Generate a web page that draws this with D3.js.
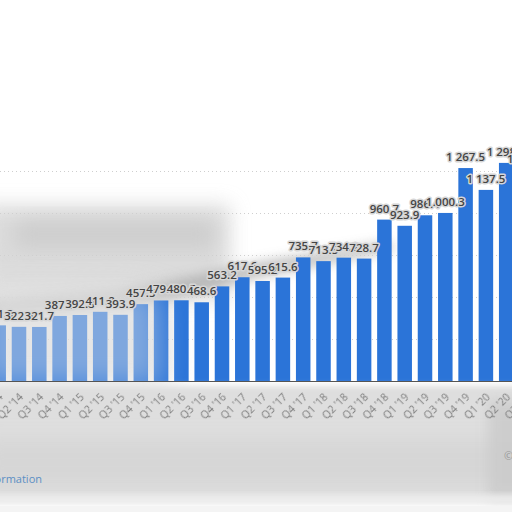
<!DOCTYPE html>
<html>
<head>
<meta charset="utf-8">
<script src="https://cdn.jsdelivr.net/npm/d3@7"></script>
<style>
  body { margin: 0; background: #fff; }
  svg { display: block; }
</style>
</head>
<body>
<script>
// quarterly values, Q1 '14 .. Q3 '20 (first and last fall outside the crop)
var quarters = ["Q1 '14", "Q2 '14", "Q3 '14", "Q4 '14",
                "Q1 '15", "Q2 '15", "Q3 '15", "Q4 '15",
                "Q1 '16", "Q2 '16", "Q3 '16", "Q4 '16",
                "Q1 '17", "Q2 '17", "Q3 '17", "Q4 '17",
                "Q1 '18", "Q2 '18", "Q3 '18", "Q4 '18",
                "Q1 '19", "Q2 '19", "Q3 '19", "Q4 '19",
                "Q1 '20", "Q2 '20", "Q3 '20"];
var values = [331.3, 322.4, 321.7, 387.2,
              392.8, 411.8, 393.9, 457.5,
              479.4, 480.5, 468.6, 563.2,
              617.6, 595.2, 615.6, 735.7,
              713.5, 734.2, 728.7, 960.7,
              923.9, 986.4, 1000.3, 1267.5,
              1137.5, 1298.2, 1256.4];
var yTicks = [0, 250, 500, 750, 1000, 1250];

var w = 512,
    h = 512,
    base = 381,
    step = 20.3;

var data = quarters.map(function(q, i) {
    return { q: q, v: values[i] };
});

var svg = d3.select("body")
    .append("svg")
    .attr("width", w)
    .attr("height", h);

var defs = svg.append("defs");
[["b3", 3], ["b6", 6], ["b10", 10], ["b14", 14], ["b1", 0.6]].forEach(function(f) {
    defs.append("filter")
        .attr("id", f[0])
        .attr("x", "-50%").attr("y", "-50%")
        .attr("width", "200%").attr("height", "200%")
        .append("feGaussianBlur")
        .attr("stdDeviation", f[1]);
});

var x = d3.scaleBand()
    .domain(quarters)
    .range([-11.45, -11.45 + step * quarters.length])
    .paddingInner(0.285)
    .paddingOuter(0.1425);

var y = d3.scaleLinear()
    .domain([0, 1250])
    .range([base, 171]);

var fmt = d3.formatLocale({ decimal: ".", thousands: " ", grouping: [3], currency: ["", ""] })
    .format(",.1f");

// blurred backdrop on the left
var bg = svg.append("g");
bg.append("rect")
    .attr("x", -20).attr("y", 205).attr("width", 250).attr("height", 95)
    .style("fill", "#d3d3d3").attr("filter", "url(#b10)").style("opacity", 0.8);
bg.append("rect")
    .attr("x", 15).attr("y", 220).attr("width", 200).attr("height", 28)
    .style("fill", "#c4c4c4").attr("filter", "url(#b10)").style("opacity", 0.6);
bg.append("path")
    .attr("d", "M-20,300 L120,292 L260,262 L390,242 L395,250 L265,276 L130,308 L-20,320 Z")
    .style("fill", "#aaaaaa").attr("filter", "url(#b6)").style("opacity", 0.75);
bg.append("path")
    .attr("d", "M-20,290 L150,290 L175,300 L175,384 L-20,384 Z")
    .style("fill", "#d6d6d6").attr("filter", "url(#b14)").style("opacity", 0.6);

// grid
svg.append("g")
    .selectAll("line")
    .data(yTicks.slice(1))
    .enter()
    .append("line")
    .attr("x1", 0).attr("x2", w)
    .attr("y1", function(d) { return y(d) + 0.5; })
    .attr("y2", function(d) { return y(d) + 0.5; })
    .style("stroke", "#cfcfcf")
    .style("stroke-dasharray", "1,3");

// bars
svg.append("g")
    .selectAll("rect")
    .data(data)
    .enter()
    .append("rect")
    .attr("x", function(d) { return x(d.q); })
    .attr("y", function(d) { return y(d.v); })
    .attr("width", x.bandwidth())
    .attr("height", function(d) { return base - y(d.v); })
    .style("fill", "#2b74d8");

// wash over the left bars
svg.append("path")
    .attr("d", "M-20,280 L140,286 L160,300 L162,386 L-20,386 Z")
    .style("fill", "#e6e6e6").attr("filter", "url(#b14)").style("opacity", 0.45);

// lower blurred panel
svg.append("rect")
    .attr("x", -20).attr("y", 386).attr("width", 560).attr("height", 116)
    .style("fill", "#dedede").attr("filter", "url(#b3)");
svg.append("rect")
    .attr("x", -20).attr("y", 440).attr("width", 560).attr("height", 45)
    .style("fill", "#d3d3d3").attr("filter", "url(#b10)").style("opacity", 0.7);
svg.append("rect")
    .attr("x", 488).attr("y", 400).attr("width", 40).attr("height", 100)
    .style("fill", "#cacaca").attr("filter", "url(#b6)").style("opacity", 0.8);
svg.append("rect")
    .attr("x", -20).attr("y", 495).attr("width", 560).attr("height", 8)
    .style("fill", "#eeeeee").attr("filter", "url(#b3)");
svg.append("line")
    .attr("x1", 0).attr("x2", w).attr("y1", 505).attr("y2", 505)
    .style("stroke", "#bdbdbd").style("stroke-width", 1.5).attr("filter", "url(#b1)");
svg.append("rect")
    .attr("x", 0).attr("y", 506).attr("width", w).attr("height", 6)
    .style("fill", "#f4f4f4");

// axis line
svg.append("line")
    .attr("x1", 0).attr("x2", w)
    .attr("y1", base + 0.5).attr("y2", base + 0.5)
    .style("stroke", "#555")
    .style("stroke-width", 1);

// x tick labels
var xAxis = d3.axisBottom(x).tickSize(0).tickPadding(0);
var gx = svg.append("g")
    .attr("transform", "translate(0," + (base + 14) + ")")
    .call(xAxis);
gx.select(".domain").remove();
gx.selectAll("text")
    .attr("dy", "0.35em")
    .attr("transform", "translate(2,0) rotate(-45)")
    .style("text-anchor", "end")
    .style("font-family", "'Open Sans', sans-serif")
    .style("font-size", "10.5px")
    .style("fill", "#7d7d7d")
    .attr("filter", "url(#b1)");

// value labels, drawn in order so later ones cover earlier ones
svg.append("g")
    .selectAll("text")
    .data(data)
    .enter()
    .append("text")
    .attr("x", function(d) { return x(d.q) + x.bandwidth() / 2; })
    .attr("y", function(d) { return y(d.v) - 7; })
    .attr("text-anchor", "middle")
    .style("font-family", "'Open Sans', sans-serif")
    .style("font-size", "11.5px")
    .style("font-weight", 600)
    .style("fill", "#444")
    .style("stroke", "#d6d6d6")
    .style("stroke-width", 3)
    .style("stroke-linejoin", "round")
    .style("paint-order", "stroke")
    .text(function(d) { return fmt(d.v); });

// clipped footer texts
svg.append("text")
    .attr("x", 42).attr("y", 483)
    .attr("text-anchor", "end")
    .style("font-family", "'Open Sans', sans-serif")
    .style("font-size", "11px")
    .style("fill", "#5b8fc4")
    .text("Additional Information");
svg.append("text")
    .attr("x", 504).attr("y", 460)
    .style("font-family", "'Open Sans', sans-serif")
    .style("font-size", "11px")
    .style("fill", "#999")
    .text("© Statista 2020");
</script>
</body>
</html>
